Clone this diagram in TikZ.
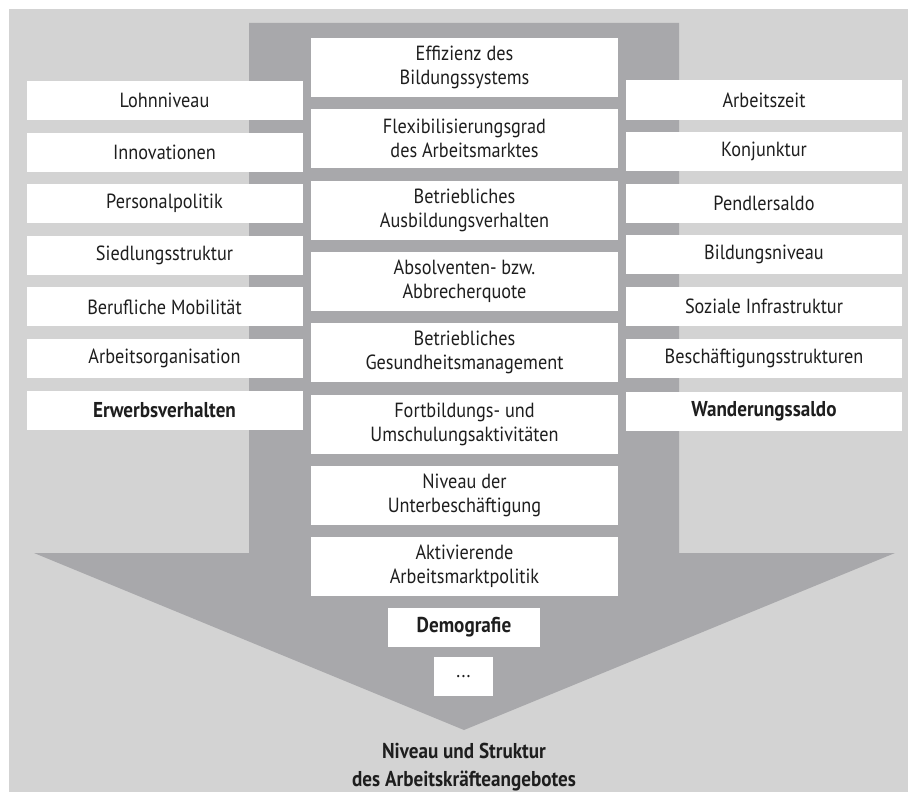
\documentclass[tikz,border=0pt]{standalone}
\usepackage{fontspec}
\setmainfont{PT Sans}[FakeStretch=0.89]
\definecolor{bglight}{HTML}{D3D3D3}
\definecolor{arrowdark}{HTML}{A8A8AB}
\definecolor{txt}{HTML}{1E1E1E}
\tikzset{
  box/.style={fill=white, draw=none, inner sep=0pt, align=center, text=txt,
    font=\fontsize{20.5}{24}\selectfont},
  sidebox/.style={box, minimum width=276pt, minimum height=39pt},
  centerbox/.style={box, minimum width=307pt, minimum height=59pt},
  boldtxt/.style={font=\fontsize{21.5}{24}\selectfont\bfseries}
}
\begin{document}
\begin{tikzpicture}[x=1pt,y=-1pt]
\useasboundingbox (0,0) rectangle (908,792);
\fill[bglight] (9,9) rectangle (908,792);
\fill[arrowdark] (249,23) -- (679,23) -- (679,553) -- (895,553) -- (464,730)
  -- (34,553) -- (249,553) -- cycle;
% center boxes
\node[centerbox] (c1) at (464.5,67.5) {Effizienz des\\Bildungssystems};
\node[centerbox] (c2) at (464.5,138.8) {Flexibilisierungsgrad\\des Arbeitsmarktes};
\node[centerbox] (c3) at (464.5,210.1) {Betriebliches\\Ausbildungsverhalten};
\node[centerbox] (c4) at (464.5,281.4) {Absolventen- bzw.\\Abbrecherquote};
\node[centerbox] (c5) at (464.5,352.7) {Betriebliches\\Gesundheitsmanagement};
\node[centerbox] (c6) at (464.5,424.0) {Fortbildungs- und\\Umschulungsaktivitäten};
\node[centerbox] (c7) at (464.5,495.3) {Niveau der\\Unterbeschäftigung};
\node[centerbox] (c8) at (464.5,566.6) {Aktivierende\\Arbeitsmarktpolitik};
\node[box, boldtxt, minimum width=152pt, minimum height=39pt] (demo) at (464,627.5) {Demografie};
\node[box, minimum width=59pt, minimum height=39pt] (dots) at (463.5,676.5) {...};
% left boxes
\node[sidebox] (l1) at (164.5,100.5) {Lohnniveau};
\node[sidebox] (l2) at (164.5,152.1) {Innovationen};
\node[sidebox] (l3) at (164.5,203.7) {Personalpolitik};
\node[sidebox] (l4) at (164.5,255.3) {Siedlungsstruktur};
\node[sidebox] (l5) at (164.5,306.9) {Berufliche Mobilität};
\node[sidebox] (l6) at (164.5,358.5) {Arbeitsorganisation};
\node[sidebox, boldtxt] (l7) at (164.5,410.6) {Erwerbsverhalten};
% right boxes
\node[sidebox] (r1) at (764,100.0) {Arbeitszeit};
\node[sidebox] (r2) at (764,151.6) {Konjunktur};
\node[sidebox] (r3) at (764,203.2) {Pendlersaldo};
\node[sidebox] (r4) at (764,254.8) {Bildungsniveau};
\node[sidebox] (r5) at (764,306.4) {Soziale Infrastruktur};
\node[sidebox] (r6) at (764,358.0) {Beschäftigungsstrukturen};
\node[sidebox, boldtxt] (r7) at (764,411.0) {Wanderungssaldo};
% title
\node[align=center, text=txt, inner sep=0pt, font=\fontsize{21.5}{28}\selectfont\bfseries] (title) at (464,767) {Niveau und Struktur\\des Arbeitskräfteangebotes};
\end{tikzpicture}
\end{document}
